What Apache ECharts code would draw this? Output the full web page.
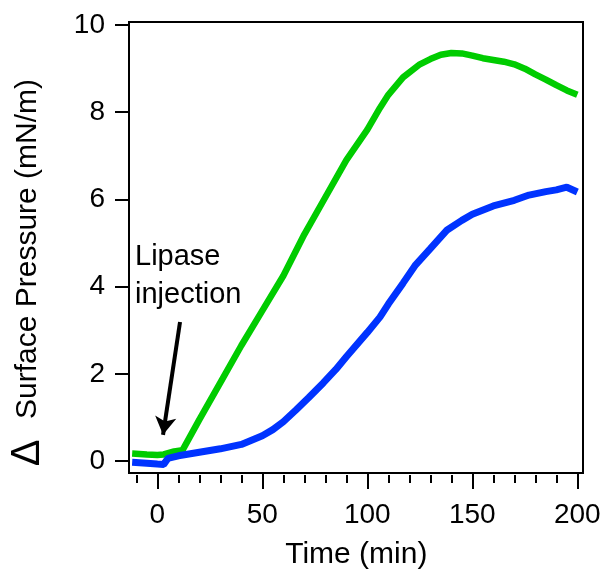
<!DOCTYPE html>
<html>
<head>
<meta charset="utf-8">
<script src="https://cdn.jsdelivr.net/npm/echarts@6/dist/echarts.min.js"></script>
<style>
html,body{margin:0;padding:0;background:#fff;}
#chart{width:606px;height:575px;}
</style>
</head>
<body>
<div id="chart"></div>
<script>
// Time (min)
var greenTime = [-12,-5,0,3,8,12,20,30,40,50,60,70,80,90,100,106,110,117,125,130,135,140,145,150,155,160,165,170,175,180,185,190,195,200];
var greenValue = [0.17,0.15,0.14,0.15,0.22,0.25,0.95,1.8,2.65,3.45,4.25,5.2,6.05,6.9,7.6,8.1,8.4,8.8,9.1,9.22,9.32,9.36,9.35,9.3,9.24,9.2,9.16,9.1,9.0,8.87,8.75,8.62,8.5,8.4];
var blueTime = [-12,-5,0,3,5,10,20,30,40,50,55,60,66,72,79,85,90,100,106,110,117,123,130,138,145,150,160,170,177,185,190,195,200];
var blueValue = [-0.03,-0.05,-0.07,-0.08,0.06,0.12,0.2,0.28,0.38,0.58,0.72,0.9,1.17,1.45,1.79,2.1,2.39,2.95,3.3,3.6,4.08,4.5,4.87,5.3,5.52,5.66,5.85,5.98,6.1,6.18,6.22,6.28,6.17];
var xTickLabels = [0,50,100,150,200];
var yTickLabels = [0,2,4,6,8,10];
var arrowStart = [10.8, 3.19];
var arrowEnd = [2.7, 0.6];
var annotationLines = ['Lipase','injection'];
var xTitle = 'Time (min)';
var yTitle = 'Surface Pressure (mN/m)';
var deltaSymbol = '\u0394';

function pairs(xs, ys){ return xs.map(function(x,i){ return [x, ys[i]]; }); }

var FONT = 'Liberation Sans, Arial, sans-serif';
var chart = echarts.init(document.getElementById('chart'), null, {renderer:'canvas'});
var option = {
  animation:false,
  backgroundColor:'#fff',
  grid:[
    {left:129, top:22, width:454, height:451, show:true, borderColor:'#000', borderWidth:2, backgroundColor:'transparent'},
    {left:129, top:25, width:454, height:436},
    {left:157.3, top:25, width:420, height:450},
    {left:136.3, top:25, width:441, height:450}
  ],
  xAxis:[
    {gridIndex:0, type:'value', min:-13.5, max:202.7, show:false},
    {gridIndex:1, type:'value', min:0, max:10, show:false},
    {gridIndex:2, type:'value', min:0, max:200, interval:50, position:'bottom',
      axisLine:{show:false}, splitLine:{show:false},
      axisTick:{show:true, inside:false, length:15, lineStyle:{color:'#000', width:2}},
      axisLabel:{show:true, margin:27, fontSize:28, color:'#000', fontFamily:FONT, data:xTickLabels},
      name:xTitle, nameLocation:'middle', nameGap:66, nameTextStyle:{fontSize:30, color:'#000', fontFamily:FONT, padding:[0,22,0,0]}},
    {gridIndex:3, type:'value', min:-10, max:200, interval:10, position:'bottom',
      axisLine:{show:false}, splitLine:{show:false},
      axisTick:{show:true, inside:false, length:8, lineStyle:{color:'#000', width:2}},
      axisLabel:{show:false}}
  ],
  yAxis:[
    {gridIndex:0, type:'value', min:-0.275, max:10.07, show:false},
    {gridIndex:1, type:'value', min:0, max:10, interval:2, position:'left',
      axisLine:{show:false}, splitLine:{show:false},
      axisTick:{show:true, inside:false, length:14, lineStyle:{color:'#000', width:2}},
      axisLabel:{show:true, margin:24, fontSize:28, color:'#000', fontFamily:FONT}},
    {gridIndex:2, type:'value', show:false},
    {gridIndex:3, type:'value', show:false}
  ],
  graphic:[
    {type:'text', x:28, y:249, rotation:Math.PI/2, style:{text:yTitle, font:'30px '+FONT, fill:'#000', align:'center', verticalAlign:'middle'}},
    {type:'text', x:28, y:453, rotation:Math.PI/2, style:{text:deltaSymbol, font:'40px '+FONT, fill:'#000', align:'center', verticalAlign:'middle'}},
    {type:'text', x:135, y:257, style:{text:annotationLines[0], font:'29px '+FONT, fill:'#000', align:'left', verticalAlign:'middle'}},
    {type:'text', x:135, y:295, style:{text:annotationLines[1], font:'29px '+FONT, fill:'#000', align:'left', verticalAlign:'middle'}}
  ],
  series:[
    {type:'line', xAxisIndex:0, yAxisIndex:0, data:pairs(greenTime, greenValue), showSymbol:false, symbol:'none',
      lineStyle:{color:'#00CC00', width:6.5}, itemStyle:{color:'#00CC00'}, z:2},
    {type:'line', xAxisIndex:0, yAxisIndex:0, data:pairs(blueTime, blueValue), showSymbol:false, symbol:'none',
      lineStyle:{color:'#0033FF', width:7}, itemStyle:{color:'#0033FF'}, z:3,
      markLine:{silent:true, symbol:['none','arrow'], symbolSize:[16,18], label:{show:false},
        lineStyle:{color:'#000', width:4, type:'solid'},
        data:[[{coord:arrowStart},{coord:arrowEnd}]]}}
  ]
};
chart.setOption(option);
</script>
</body>
</html>
